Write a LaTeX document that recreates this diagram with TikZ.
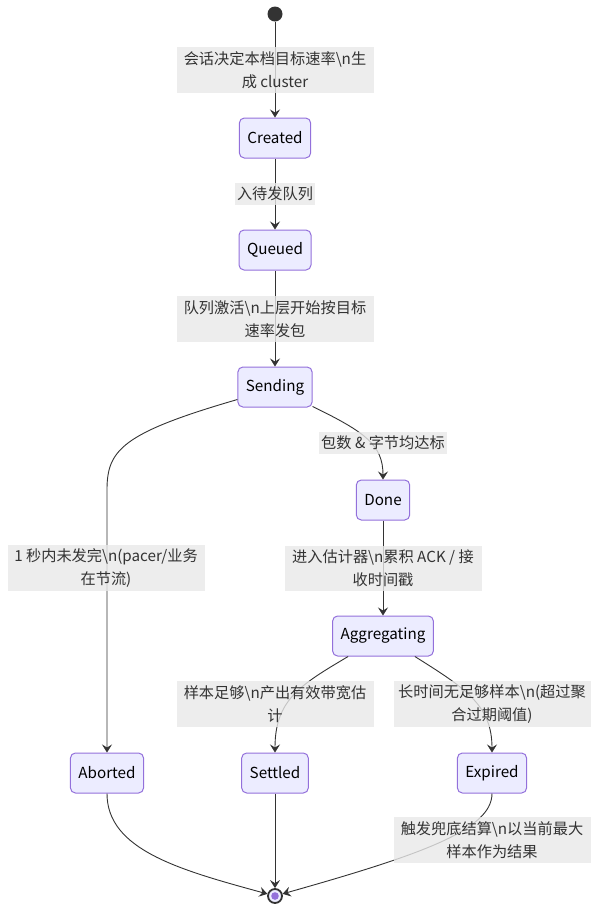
\documentclass[tikz,border=0pt]{standalone}
\usepackage{fontspec}
\setmainfont{Noto Sans CJK SC}
\usetikzlibrary{arrows.meta}
\definecolor{stfill}{HTML}{ECECFF}
\definecolor{stline}{HTML}{9370DB}
\definecolor{ink}{HTML}{333333}
\definecolor{lblbg}{HTML}{E8E8E8}
\newcommand{\bsn}{\textbackslash n}

\begin{document}
\begin{tikzpicture}[x=1pt, y=-1pt,
    font=\fontsize{15.2}{23}\selectfont,
    st/.style={rectangle, rounded corners=5pt, draw=stline, line width=1pt, fill=stfill,
        minimum height=40pt, inner xsep=8pt, text=black},
    lbl/.style={fill=lblbg, fill opacity=0.8, text opacity=1, text=ink, align=center,
        inner xsep=2pt, inner ysep=4pt},
    wide/.style={minimum width=197pt},
    tr/.style={draw=ink, line width=0.9pt, -{Stealth[length=8pt, width=10pt, inset=3pt]}}]
    \useasboundingbox (0,0) rectangle (607,922);

    \node[circle, fill=ink, minimum size=15pt, inner sep=0pt] (init) at (275,14) {};
    \node[st] (created) at (275,138) {Created};
    \node[st] (queued) at (275,250) {Queued};
    \node[st] (sending) at (275,387) {Sending};
    \node[st] (done) at (383,500) {Done};
    \node[st] (aggr) at (383,636) {Aggregating};
    \node[st] (aborted) at (107,773) {Aborted};
    \node[st] (settled) at (275,773) {Settled};
    \node[st] (expired) at (492,773) {Expired};
    \node[circle, draw=ink, line width=1.8pt, fill=stfill, minimum size=14pt, inner sep=0pt] (fin) at (275,896) {};
    \fill[stline] (fin) circle (3.8);

    \draw[tr] (init) -- (created);
    \draw[tr] (created) -- (queued);
    \draw[tr] (queued) -- (sending);
    \draw[tr] ([yshift=8pt]sending.south west) .. controls (122,433) and (107,450) .. (107,490) -- (aborted);
    \draw[tr] ([yshift=1pt]sending.south east) .. controls (365,432) and (383,445) .. (done);
    \draw[tr] (done) -- (aggr);
    \draw[tr] ([xshift=16pt]aggr.south west) .. controls (300,685) and (275,700) .. (settled);
    \draw[tr] ([xshift=-19pt]aggr.south east) .. controls (465,688) and (492,705) .. (expired);
    \draw[tr] (aborted) .. controls (107,850) and (180,870) .. (fin);
    \draw[tr] (settled) -- (fin);
    \draw[tr] (expired) .. controls (492,830) and (420,855) .. (fin);

    \node[lbl, wide] (la) at (275,70) {会话决定本档目标速率\bsn 生\\成 cluster};
    \node[lbl] (lb) at (275,194) {入待发队列};
    \node[lbl, wide] (lc) at (275,319) {队列激活\bsn 上层开始按目标\\速率发包};
    \node[lbl] (ld) at (383,443) {包数 \& 字节均达标};
    \node[lbl, wide] (le) at (106,568) {1 秒内未发完\bsn(pacer/业务\\在节流)};
    \node[lbl, wide] (lf) at (383,568) {进入估计器\bsn 累积 ACK / 接\\收时间戳};
    \node[lbl, wide] (lg) at (275,704) {样本足够\bsn 产出有效带宽估\\计};
    \node[lbl, wide] (lh) at (492,704) {长时间无足够样本\bsn(超过聚\\合过期阈值)};
    \node[lbl, wide] (li) at (492,840) {触发兜底结算\bsn 以当前最大\\样本作为结果};
\end{tikzpicture}
\end{document}
